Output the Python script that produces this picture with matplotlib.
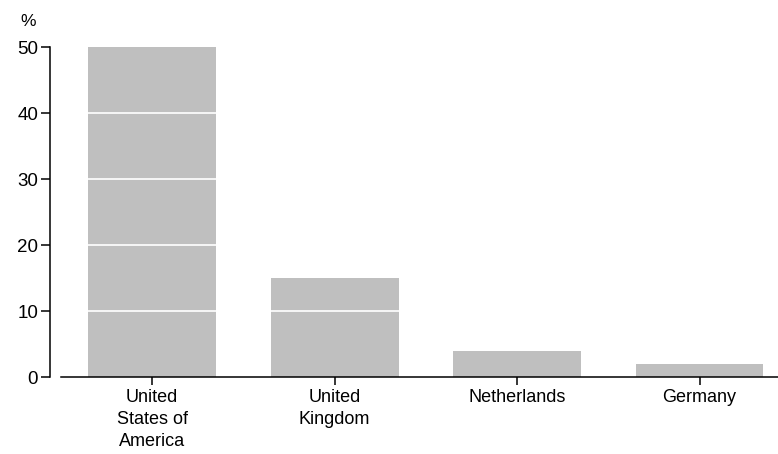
import numpy as np
import matplotlib.pyplot as plt

countries = ["United\nStates of\nAmerica", "United\nKingdom", "Netherlands", "Germany"]
shares = [50, 15, 4, 2]
y_ticks = [0, 10, 20, 30, 40, 50]

plt.rcParams['font.family'] = ['Liberation Sans', 'DejaVu Sans']

fig = plt.figure(figsize=(7.78, 4.54), dpi=100)
ax = fig.add_axes([61/778, 77/454, 1 - 61/778, (377 - 47)/454])

x = np.arange(len(countries))
ax.bar(x, shares, width=0.7, color='#bfbfbf', zorder=1)

# white gridlines drawn over the bars
for t in y_ticks[1:-1]:
    ax.axhline(t, color='white', linewidth=1.2, zorder=2)

ax.set_xlim(-0.5, 3.43)
ax.set_ylim(0, 50)
ax.set_yticks(y_ticks)
ax.set_xticks(x)
ax.set_xticklabels(countries, fontsize=13, linespacing=1.35)
ax.tick_params(axis='y', labelsize=13.5, length=6.5, width=1.1, pad=2)
ax.tick_params(axis='x', length=6, width=1.1, pad=3)

for s in ['top', 'right']:
    ax.spines[s].set_visible(False)
ax.spines['left'].set_position(('outward', 8))
ax.spines['left'].set_linewidth(1.1)
ax.spines['bottom'].set_linewidth(1.1)

fig.text(20/778, 1 - 22/454, "%", fontsize=12.5, ha='left', va='center')

fig.savefig("out.png", dpi=100)
